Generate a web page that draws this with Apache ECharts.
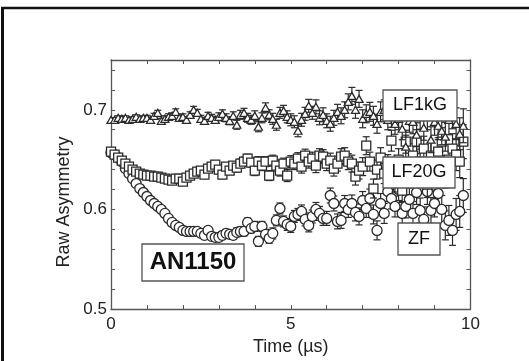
<!DOCTYPE html>
<html>
<head>
<meta charset="utf-8">
<script src="https://cdn.jsdelivr.net/npm/echarts@6/dist/echarts.min.js"></script>
<style>
  html, body { margin: 0; padding: 0; background: #fff; }
  #chart { width: 529px; height: 361px; }
</style>
</head>
<body>
<div id="chart"></div>
<script>
// time bins (µs)
const times = [
  0.0, 0.1, 0.2, 0.3, 0.4, 0.5, 0.6, 0.7, 0.8, 0.9,
  1.0, 1.1, 1.2, 1.3, 1.4, 1.5, 1.6, 1.7, 1.8, 1.9,
  2.0, 2.1, 2.2, 2.3, 2.4, 2.5, 2.6, 2.7, 2.8, 2.9,
  3.0, 3.1, 3.2, 3.3, 3.4, 3.5, 3.6, 3.7, 3.8, 3.9,
  4.0, 4.1, 4.2, 4.3, 4.4, 4.5, 4.6, 4.7, 4.8, 4.9,
  5.0, 5.1, 5.2, 5.3, 5.4, 5.5, 5.6, 5.7, 5.8, 5.9,
  6.0, 6.1, 6.2, 6.3, 6.4, 6.5, 6.6, 6.7, 6.8, 6.9,
  7.0, 7.1, 7.2, 7.3, 7.4, 7.5, 7.6, 7.7, 7.8, 7.9,
  8.0, 8.1, 8.2, 8.3, 8.4, 8.5, 8.6, 8.7, 8.8, 8.9,
  9.0, 9.1, 9.2, 9.3, 9.4, 9.5, 9.6, 9.7, 9.8
];

const zf = [
  0.657, 0.655, 0.652, 0.648, 0.641, 0.636, 0.631, 0.626, 0.621, 0.617,
  0.613, 0.609, 0.606, 0.603, 0.600, 0.596, 0.591, 0.587, 0.584, 0.582,
  0.579, 0.578, 0.578, 0.578, 0.578, 0.576, 0.574, 0.579, 0.573, 0.572,
  0.572, 0.574, 0.576, 0.575, 0.574, 0.577, 0.578, 0.578, 0.587, 0.581,
  0.583, 0.568, 0.583, 0.575, 0.571, 0.576, 0.589, 0.601, 0.588, 0.585,
  0.583, 0.593, 0.595, 0.598, 0.590, 0.584, 0.593, 0.600, 0.596, 0.591,
  0.591, 0.614, 0.606, 0.588, 0.589, 0.606, 0.600, 0.606, 0.597, 0.593,
  0.609, 0.601, 0.611, 0.595, 0.579, 0.606, 0.596, 0.618, 0.611, 0.603,
  0.620, 0.596, 0.603, 0.610, 0.596, 0.617, 0.599, 0.590, 0.618, 0.599,
  0.606, 0.616, 0.600, 0.584, 0.589, 0.579, 0.595, 0.598, 0.614
];

const lf20g = [
  0.658, 0.655, 0.652, 0.649, 0.646, 0.643, 0.640, 0.638, 0.636, 0.635,
  0.634, 0.634, 0.633, 0.633, 0.632, 0.631, 0.630, 0.629, 0.631, 0.631,
  0.628, 0.632, 0.634, 0.636, 0.638, 0.639, 0.635, 0.641, 0.643, 0.645,
  0.640, 0.635, 0.643, 0.639, 0.644, 0.642, 0.646, 0.648, 0.651, 0.647,
  0.639, 0.648, 0.644, 0.648, 0.634, 0.649, 0.644, 0.639, 0.646, 0.634,
  0.648, 0.646, 0.651, 0.643, 0.654, 0.648, 0.651, 0.644, 0.654, 0.653,
  0.646, 0.649, 0.641, 0.646, 0.653, 0.654, 0.648, 0.646, 0.633, 0.639,
  0.643, 0.664, 0.648, 0.621, 0.640, 0.652, 0.636, 0.645, 0.669, 0.628,
  0.650, 0.619, 0.668, 0.638, 0.654, 0.668, 0.648, 0.661, 0.625, 0.654,
  0.642, 0.658, 0.668, 0.636, 0.650, 0.661, 0.655, 0.648, 0.668
];

const lf1kg = [
  0.690, 0.690, 0.692, 0.691, 0.692, 0.690, 0.691, 0.693, 0.691, 0.692,
  0.692, 0.690, 0.694, 0.697, 0.689, 0.691, 0.693, 0.694, 0.698, 0.692,
  0.693, 0.690, 0.695, 0.700, 0.697, 0.691, 0.689, 0.694, 0.692, 0.690,
  0.693, 0.696, 0.692, 0.689, 0.694, 0.685, 0.695, 0.697, 0.692, 0.690,
  0.694, 0.683, 0.692, 0.702, 0.695, 0.691, 0.685, 0.697, 0.699, 0.693,
  0.690, 0.688, 0.679, 0.690, 0.696, 0.704, 0.697, 0.703, 0.692, 0.695,
  0.689, 0.686, 0.692, 0.698, 0.694, 0.700, 0.708, 0.714, 0.700, 0.711,
  0.691, 0.696, 0.698, 0.694, 0.686, 0.698, 0.700, 0.690, 0.693, 0.686,
  0.691, 0.681, 0.663, 0.689, 0.688, 0.675, 0.693, 0.682, 0.693, 0.670,
  0.688, 0.684, 0.679, 0.673, 0.690, 0.696, 0.686, 0.676, 0.684
];

// half-width of the error bars, per time bin
const errors = [
  0.002, 0.002, 0.002, 0.002, 0.002, 0.002, 0.002, 0.002, 0.002, 0.002,
  0.0025, 0.0025, 0.0025, 0.0025, 0.0025, 0.003, 0.003, 0.003, 0.003, 0.003,
  0.003, 0.003, 0.003, 0.0035, 0.0035, 0.0035, 0.0035, 0.0035, 0.0035, 0.0035,
  0.004, 0.004, 0.004, 0.004, 0.004, 0.0045, 0.0045, 0.0045, 0.0045, 0.0045,
  0.005, 0.005, 0.005, 0.005, 0.005, 0.0055, 0.0055, 0.0055, 0.0055, 0.006,
  0.006, 0.006, 0.006, 0.0065, 0.0065, 0.0065, 0.0065, 0.007, 0.007, 0.007,
  0.007, 0.0075, 0.0075, 0.0075, 0.008, 0.008, 0.008, 0.0085, 0.0085, 0.0085,
  0.009, 0.009, 0.0095, 0.0095, 0.0095, 0.010, 0.010, 0.010, 0.0105, 0.0105,
  0.011, 0.011, 0.0115, 0.0115, 0.012, 0.012, 0.0125, 0.0125, 0.013, 0.013,
  0.0135, 0.014, 0.014, 0.0145, 0.015, 0.015, 0.016, 0.016, 0.017
];

const xTickLabels = ['0', '5', '10'];
const yTickLabels = ['0.5', '0.6', '0.7'];

const font = 'Arial, "Liberation Sans", sans-serif';
const ink = '#2a2a2a';
const frame = '#555';

function pairs(values) {
  return times.map((t, i) => [t, values[i], errors[i]]);
}

function errorBars(params, api) {
  const x = api.value(0);
  const y = api.value(1);
  const e = api.value(2);
  const hi = api.coord([x, y + e]);
  const lo = api.coord([x, y - e]);
  const style = { stroke: ink, lineWidth: 1.2 };
  const cap = 3.5;
  return {
    type: 'group',
    children: [
      { type: 'line', shape: { x1: hi[0], y1: hi[1], x2: lo[0], y2: lo[1] }, style },
      { type: 'line', shape: { x1: hi[0] - cap, y1: hi[1], x2: hi[0] + cap, y2: hi[1] }, style },
      { type: 'line', shape: { x1: lo[0] - cap, y1: lo[1], x2: lo[0] + cap, y2: lo[1] }, style },
    ],
  };
}

const datasets = [
  { name: 'ZF', values: zf, symbol: 'circle', size: 10, z: 2 },
  { name: 'LF20G', values: lf20g, symbol: 'rect', size: 9, z: 3 },
  { name: 'LF1kG', values: lf1kg, symbol: 'triangle', size: [8, 7], z: 4 },
];

const series = [];
datasets.forEach((d) => {
  series.push({
    name: d.name + ' err',
    type: 'custom',
    renderItem: errorBars,
    data: pairs(d.values),
    encode: { x: 0, y: 1 },
    clip: true,
    z: d.z,
    silent: true,
  });
  series.push({
    name: d.name,
    type: 'scatter',
    data: pairs(d.values),
    symbol: d.symbol,
    symbolSize: d.size,
    itemStyle: { color: '#fff', borderColor: ink, borderWidth: 1.3, opacity: 1 },
    z: d.z,
    silent: true,
  });
});

const axisLine = { show: true, onZero: false, lineStyle: { color: frame, width: 1.3 } };
const axisTick = { show: true, inside: true, length: 4, lineStyle: { color: frame, width: 1 } };
const labelStyle = { fontFamily: font, fontSize: 17, color: '#222' };

const xBase = { type: 'value', min: 0, max: 10, interval: 1, axisLine, axisTick, splitLine: { show: false } };
const yBase = { type: 'value', min: 0.5, max: 0.75, interval: 0.02, axisLine, axisTick, splitLine: { show: false } };

function labelBox(x, y, w, h, text, fontSize, bold) {
  return {
    type: 'group',
    children: [
      {
        type: 'rect',
        z: 100,
        shape: { x, y, width: w, height: h },
        style: { fill: '#fff', stroke: frame, lineWidth: 1.3 },
      },
      {
        type: 'text',
        z: 101,
        x: x + w / 2,
        y: y + h / 2,
        style: {
          text,
          fontFamily: font,
          fontSize,
          fontWeight: bold ? 'bold' : 'normal',
          fill: '#111',
          align: 'center',
          verticalAlign: 'middle',
        },
      },
    ],
  };
}

const chart = echarts.init(document.getElementById('chart'), null, { renderer: 'canvas' });
chart.setOption({
  animation: false,
  backgroundColor: '#fff',
  grid: { left: 111, top: 60, right: 58.5, bottom: 49.3, containLabel: false },
  xAxis: [
    {
      ...xBase,
      position: 'bottom',
      axisLabel: {
        ...labelStyle,
        margin: 7,
        formatter: (v) => (xTickLabels.includes(String(v)) ? String(v) : ''),
      },
      name: 'Time (µs)',
      nameLocation: 'middle',
      nameGap: 27,
      nameTextStyle: { fontFamily: font, fontSize: 18, color: '#222' },
    },
    { ...xBase, position: 'top', axisLabel: { show: false } },
  ],
  yAxis: [
    {
      ...yBase,
      position: 'left',
      axisLabel: {
        ...labelStyle,
        margin: 4,
        formatter: (v) => {
          const s = v.toFixed(1);
          return Math.abs(v - Number(s)) < 1e-6 && yTickLabels.includes(s) ? s : '';
        },
      },
    },
    { ...yBase, position: 'right', axisLabel: { show: false } },
  ],
  series,
  graphic: [
    // outer frame (left and top edges only)
    { type: 'line', z: 100, shape: { x1: 2.5, y1: 8, x2: 2.5, y2: 361 }, style: { stroke: '#111', lineWidth: 3 } },
    { type: 'line', z: 100, shape: { x1: 1, y1: 8, x2: 529, y2: 8 }, style: { stroke: '#111', lineWidth: 2.5 } },
    {
      type: 'text',
      x: 64,
      y: 202,
      rotation: Math.PI / 2,
      style: {
        text: 'Raw Asymmetry',
        fontFamily: font,
        fontSize: 18,
        fill: '#222',
        align: 'center',
        verticalAlign: 'middle',
      },
    },
    labelBox(383, 90, 74, 31, 'LF1kG', 18, false),
    labelBox(383, 157, 72, 31, 'LF20G', 18, false),
    labelBox(398, 223, 42, 32, 'ZF', 18, false),
    labelBox(142, 244, 102, 37, 'AN1150', 24, true),
  ],
});
</script>
</body>
</html>
